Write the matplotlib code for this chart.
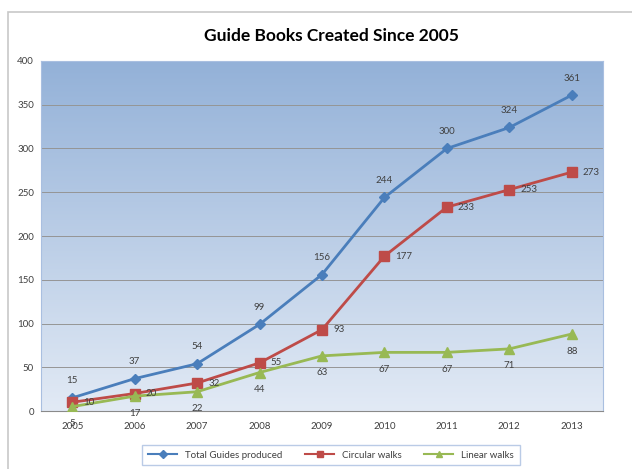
import numpy as np
import matplotlib.pyplot as plt
from matplotlib.patches import Rectangle

# guide book counts per year
years = ['2005', '2006', '2007', '2008', '2009', '2010', '2011', '2012', '2013']
total_guides = [15, 37, 54, 99, 156, 244, 300, 324, 361]
circular_walks = [10, 20, 32, 55, 93, 177, 233, 253, 273]
linear_walks = [5, 17, 22, 44, 63, 67, 67, 71, 88]

plt.rcParams['font.family'] = ['Lato', 'DejaVu Sans']

fig = plt.figure(figsize=(6.32, 4.69), dpi=100)
fig.patch.set_facecolor('white')

# outer chart frame
fig.patches.append(Rectangle((8 / 632, -0.01), 1.0, 1 - 12 / 469 + 0.01,
                             transform=fig.transFigure, facecolor='none',
                             edgecolor='#c8c8c8', lw=1.2))

ax = fig.add_axes([41 / 632, 1 - 411 / 469, 562 / 632, 350 / 469])
xs = np.arange(len(years))

# blue gradient background
top = np.array([147, 177, 216]) / 255
bottom = np.array([226, 234, 245]) / 255
t = np.linspace(0, 1, 256)[:, None]
grad = (top * (1 - t) + bottom * t)[:, None, :]
ax.imshow(grad, extent=[-0.5, 8.5, 0, 400], aspect='auto', zorder=0)

ax.set_xlim(-0.5, 8.5)
ax.set_ylim(0, 400)
ax.set_yticks(range(0, 401, 50))
ax.set_xticks(xs)
ax.set_xticklabels(years)
ax.tick_params(length=0, labelsize=7, colors='#404040')
ax.tick_params(axis='x', pad=8)
ax.tick_params(axis='y', pad=5)
ax.grid(axis='y', color='#959595', lw=0.7, zorder=1)
for side in ['top', 'right', 'left']:
    ax.spines[side].set_color('#a9bfe0')
ax.spines['bottom'].set_color('#8a8a8a')

ax.plot(xs, total_guides, color='#4a7ebb', lw=2, marker='D', ms=5,
        label='Total Guides produced', zorder=3)
ax.plot(xs, circular_walks, color='#be4b48', lw=2, marker='s', ms=7,
        label='Circular walks', zorder=3)
ax.plot(xs, linear_walks, color='#98b954', lw=2, marker='^', ms=7,
        label='Linear walks', zorder=3)

# data labels
lbl = dict(fontsize=7, color='#404040', zorder=4)
for x, v in zip(xs, total_guides):
    ax.annotate(str(v), (x, v), xytext=(0, 9), textcoords='offset points',
                ha='center', va='bottom', **lbl)
for x, v in zip(xs, circular_walks):
    ax.annotate(str(v), (x, v), xytext=(8, 0), textcoords='offset points',
                ha='left', va='center', **lbl)
for x, v in zip(xs, linear_walks):
    ax.annotate(str(v), (x, v), xytext=(0, -9), textcoords='offset points',
                ha='center', va='top', **lbl)

fig.text(331 / 632, 1 - 36 / 469, 'Guide Books Created Since 2005',
         ha='center', va='center', fontsize=12.5, fontweight='bold',
         color='black')

leg = fig.legend(loc='center', bbox_to_anchor=(331 / 632, 1 - 455 / 469),
                 ncol=3, fontsize=7, frameon=True, fancybox=False,
                 handlelength=3, columnspacing=2.3, borderpad=0.6,
                 labelcolor='#404040')
leg.get_frame().set_edgecolor('#a9bfe0')
leg.get_frame().set_linewidth(1)
for h in leg.legend_handles:
    h.set_markersize(4)
    h.set_linewidth(1.5)

fig.savefig('out.png', dpi=100)
